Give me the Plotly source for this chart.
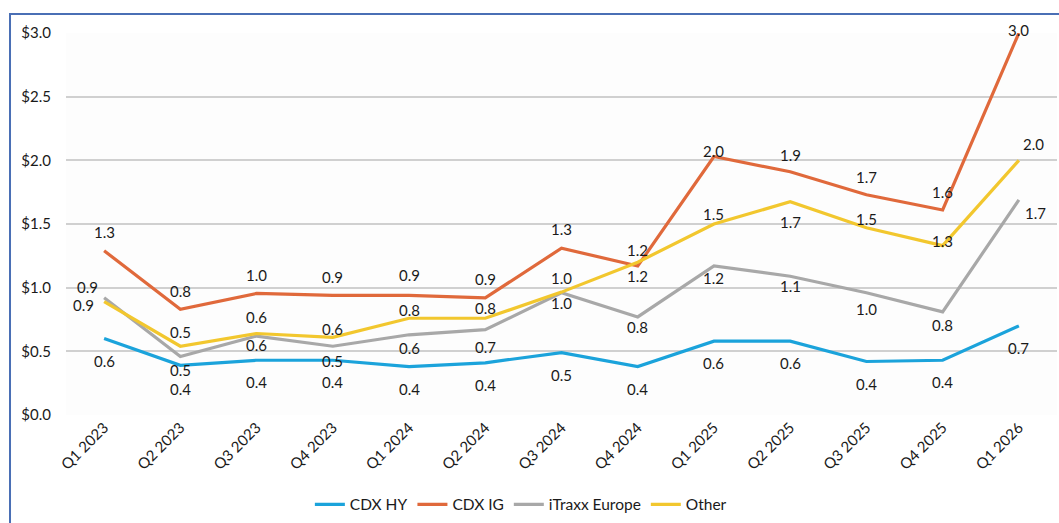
import plotly.graph_objects as go

quarters = ["Q1 2023", "Q2 2023", "Q3 2023", "Q4 2023", "Q1 2024", "Q2 2024", "Q3 2024",
            "Q4 2024", "Q1 2025", "Q2 2025", "Q3 2025", "Q4 2025", "Q1 2026"]
cdx_hy = [0.60, 0.39, 0.43, 0.43, 0.38, 0.41, 0.49, 0.38, 0.58, 0.58, 0.42, 0.43, 0.70]
cdx_ig = [1.29, 0.83, 0.955, 0.94, 0.94, 0.92, 1.31, 1.17, 2.03, 1.91, 1.73, 1.61, 3.0]
itraxx = [0.92, 0.46, 0.62, 0.54, 0.63, 0.67, 0.96, 0.77, 1.17, 1.09, 0.96, 0.81, 1.69]
other = [0.89, 0.54, 0.64, 0.61, 0.76, 0.76, 0.965, 1.20, 1.50, 1.675, 1.47, 1.33, 2.0]

series_names = ["CDX HY", "CDX IG", "iTraxx Europe", "Other"]
series_values = [cdx_hy, cdx_ig, itraxx, other]
colors = ["#1BA3DB", "#E0693B", "#A8A8A8", "#F2C72E"]

# label offsets in pixels (style only)
label_dx = [
    [0] * 13,
    [0] * 13,
    [-17, 0, 0, 0, 0, 0, 0, 0, 0, 0, 0, 0, 17],
    [-21, 0, 0, 0, 0, 0, 0, 0, 0, 0, 0, 0, 15],
]
label_dy = [
    [22, 24, 22, 22, 22, 22, 22, 22, 22, 22, 22, 22, 22],
    [-19, -18, -18, -18, -20, -19, -19, -16, -6, -17, -18, -18, -3],
    [-11, 14, 9, 15, 13, 17, 10, 10, 12, 10, 16, 13, 13],
    [3, -14, -17, -8, -8, -10, -14, 14, -10, 20, -9, -5, -16],
]

FONT = "Lato"
fig = go.Figure()
for name, vals, col in zip(series_names, series_values, colors):
    fig.add_trace(go.Scatter(x=quarters, y=vals, mode="lines", name=name,
                             line=dict(color=col, width=3.2), hoverinfo="x+y"))

annotations = []
for k, vals in enumerate(series_values):
    for i, (q, v) in enumerate(zip(quarters, vals)):
        annotations.append(dict(x=q, y=v, xref="x", yref="y", text=f"{v:.1f}",
                                showarrow=False, xshift=label_dx[k][i], yshift=-label_dy[k][i],
                                font=dict(family=FONT, size=15, color="#1a1a1a")))

fig.update_layout(
    width=1059, height=523,
    margin=dict(l=66, r=2, t=33, b=107),
    paper_bgcolor="white", plot_bgcolor="#FDFDFD",
    font=dict(family=FONT, size=15, color="#1a1a1a"),
    showlegend=True,
    legend=dict(orientation="h", x=0.459, xanchor="center", y=-0.232, yanchor="middle",
                font=dict(family=FONT, size=15.5, color="#1a1a1a"), traceorder="normal",
                itemwidth=30, bgcolor="rgba(0,0,0,0)"),
    annotations=annotations,
    shapes=[dict(type="rect", xref="paper", yref="paper", x0=-0.0565, y0=-0.6, x1=1.2, y1=1.0496,
                 line=dict(color="#4A6FB5", width=2), fillcolor="rgba(0,0,0,0)", layer="below")],
)
fig.update_xaxes(type="category", range=[-0.5, 12.5], tickangle=-45, showgrid=False,
                 showline=False, ticks="", zeroline=False,
                 tickfont=dict(family=FONT, size=15, color="#1a1a1a"))
fig.update_yaxes(range=[0, 3.0], dtick=0.5, tickprefix="$", tickformat=".1f",
                 showgrid=True, gridcolor="#D0D0D0", gridwidth=1.5, zeroline=False,
                 showline=False, ticks="", ticklabelstandoff=14,
                 tickfont=dict(family=FONT, size=15, color="#1a1a1a"))

fig.write_html("out.html")
